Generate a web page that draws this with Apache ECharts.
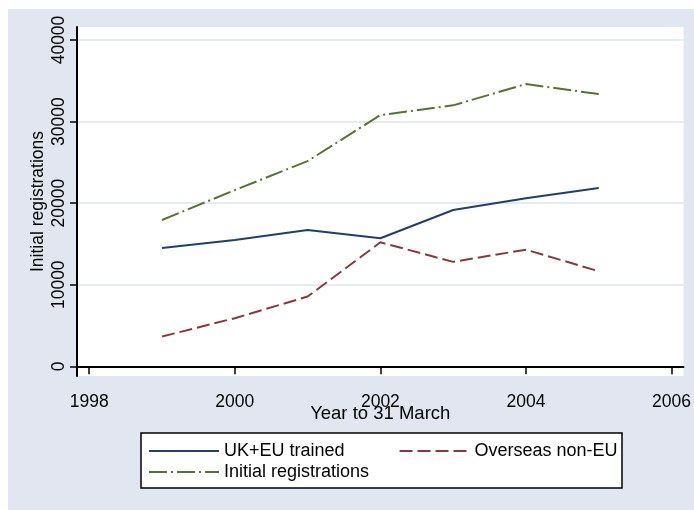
<!DOCTYPE html>
<html>
<head>
<meta charset="utf-8">
<script src="https://cdn.jsdelivr.net/npm/echarts@6/dist/echarts.min.js"></script>
<style>
html,body{margin:0;padding:0;background:#ffffff;width:694px;height:510px;overflow:hidden;}
#chart{position:absolute;left:8px;top:9px;width:686px;height:501px;background:#e1e6f0;}
</style>
</head>
<body>
<div id="chart"></div>
<script>
// ---- data ----
const years = [1999, 2000, 2001, 2002, 2003, 2004, 2005];
const ukEuTrained = [14500, 15480, 16700, 15700, 19160, 20600, 21850];
const overseasNonEu = [3650, 5900, 8550, 15200, 12800, 14300, 11650];
const initialRegistrations = [17930, 21600, 25150, 30800, 31990, 34600, 33370];
const xTicks = [1998, 2000, 2002, 2004, 2006];
const yTicks = [0, 10000, 20000, 30000, 40000];
const seriesNames = ['UK+EU trained', 'Overseas non-EU', 'Initial registrations'];

const pairs = vals => years.map((y, i) => [y, vals[i]]);
const FONT = "'Liberation Sans', Arial, Helvetica, sans-serif";
const hiddenSymbol = {color: 'rgba(0,0,0,0)', borderColor: 'rgba(0,0,0,0)', borderWidth: 0, opacity: 0};

const chart = echarts.init(document.getElementById('chart'), null, {renderer: 'canvas'});
chart.setOption({
  animation: false,
  backgroundColor: '#e1e6f0',
  grid: {
    left: 69, top: 18, right: 7, bottom: 134,
    show: true, backgroundColor: '#ffffff', borderWidth: 0
  },
  xAxis: {
    type: 'value',
    min: 1997.832, max: 2006.164,
    name: 'Year to 31 March',
    nameLocation: 'middle',
    nameGap: 28,
    nameMoveOverlap: false,
    nameTextStyle: {fontFamily: FONT, fontSize: 18.5, color: '#000'},
    axisLine: {show: true, lineStyle: {color: '#000', width: 2}},
    axisTick: {show: true, length: 8, lineStyle: {color: '#000', width: 1.5}, customValues: xTicks},
    axisLabel: {fontFamily: FONT, fontSize: 17.5, color: '#000', margin: 17, customValues: xTicks,
                formatter: v => String(v)},
    splitLine: {show: false}
  },
  yAxis: {
    type: 'value',
    min: -1189, max: 41594,
    name: 'Initial registrations',
    nameLocation: 'middle',
    nameGap: 30,
    nameMoveOverlap: false,
    nameTextStyle: {fontFamily: FONT, fontSize: 17.5, color: '#000'},
    axisLine: {show: true, lineStyle: {color: '#000', width: 2}},
    axisTick: {show: true, length: 7, lineStyle: {color: '#000', width: 1.5}, customValues: yTicks},
    axisLabel: {fontFamily: FONT, fontSize: 17.5, color: '#000', margin: 9, rotate: 90, customValues: yTicks,
                formatter: v => String(v)},
    splitLine: {show: true, lineStyle: {color: '#dde3f0', width: 1.5}}
  },
  graphic: [{
    type: 'rect', z: 1,
    shape: {x: 133, y: 424, width: 481, height: 55},
    style: {fill: '#ffffff', stroke: '#000000', lineWidth: 1.5}
  }],
  legend: [
    {
      z: 10, left: 135, top: 428, orient: 'horizontal',
      itemWidth: 70, itemHeight: 14, itemGap: 54,
      itemStyle: hiddenSymbol,
      data: [seriesNames[0], seriesNames[1]],
      textStyle: {fontFamily: FONT, fontSize: 18, color: '#000'}
    },
    {
      z: 10, left: 135, top: 449, orient: 'horizontal',
      itemWidth: 70, itemHeight: 14,
      itemStyle: hiddenSymbol,
      data: [seriesNames[2]],
      textStyle: {fontFamily: FONT, fontSize: 18, color: '#000'}
    }
  ],
  series: [
    {
      name: seriesNames[0], type: 'line', symbol: 'none', data: pairs(ukEuTrained),
      lineStyle: {color: '#1c4070', width: 2}, itemStyle: {color: '#1c4070'}
    },
    {
      name: seriesNames[1], type: 'line', symbol: 'none', data: pairs(overseasNonEu),
      lineStyle: {color: '#90353b', width: 2, type: [13, 5]}, itemStyle: {color: '#90353b'}
    },
    {
      name: seriesNames[2], type: 'line', symbol: 'none', data: pairs(initialRegistrations),
      lineStyle: {color: '#55752f', width: 2, type: [18, 4, 2, 4]}, itemStyle: {color: '#55752f'}
    }
  ]
});
</script>
</body>
</html>
